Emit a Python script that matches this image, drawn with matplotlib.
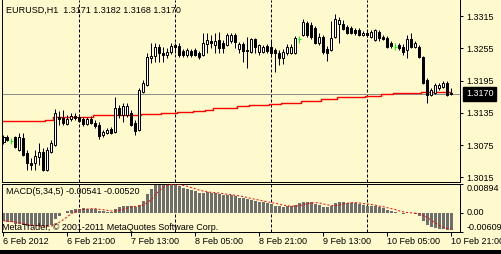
import matplotlib
matplotlib.use("Agg")
import matplotlib.pyplot as plt
import matplotlib.transforms as mtransforms
from matplotlib.patches import Rectangle

BG = "#FFFACD"
W, H = 502, 254

# hourly EURUSD candles
opens = [
    1.3081, 1.3090, 1.3082, 1.3090, 1.3066, 1.3088, 1.3060, 1.3042, 1.3042, 1.3053,
    1.3062, 1.3029, 1.3062, 1.3075, 1.3127, 1.3125, 1.3114, 1.3123, 1.3129, 1.3127,
    1.3123, 1.3114, 1.3123, 1.3116, 1.3112, 1.3094, 1.3097, 1.3105, 1.3099, 1.3144,
    1.3131, 1.3131, 1.3135, 1.3116, 1.3103, 1.3174, 1.3187, 1.3237, 1.3241, 1.3257,
    1.3246, 1.3242, 1.3248, 1.3261, 1.3259, 1.3250, 1.3242, 1.3250, 1.3252, 1.3246,
    1.3242, 1.3263, 1.3268, 1.3261, 1.3270, 1.3265, 1.3261, 1.3268, 1.3280, 1.3254,
    1.3263, 1.3252, 1.3248, 1.3272, 1.3248, 1.3248, 1.3259, 1.3257, 1.3252, 1.3246,
    1.3237, 1.3246, 1.3246, 1.3246, 1.3272, 1.3280, 1.3302, 1.3298, 1.3293, 1.3265,
    1.3276, 1.3254, 1.3252, 1.3276, 1.3300, 1.3300, 1.3295, 1.3293, 1.3289, 1.3289,
    1.3280, 1.3283, 1.3276, 1.3270, 1.3285, 1.3276, 1.3274, 1.3265, 1.3257, 1.3261,
    1.3257, 1.3252, 1.3272, 1.3257, 1.3257, 1.3239, 1.3196, 1.3168, 1.3172, 1.3181,
    1.3183, 1.3190, 1.3171,
]
highs = [
    1.3094, 1.3094, 1.3088, 1.3092, 1.3097, 1.3097, 1.3066, 1.3051, 1.3066, 1.3079,
    1.3070, 1.3071, 1.3084, 1.3142, 1.3138, 1.3140, 1.3131, 1.3135, 1.3135, 1.3133,
    1.3127, 1.3127, 1.3129, 1.3122, 1.3118, 1.3103, 1.3107, 1.3109, 1.3164, 1.3149,
    1.3153, 1.3153, 1.3140, 1.3122, 1.3181, 1.3196, 1.3246, 1.3265, 1.3265, 1.3263,
    1.3257, 1.3255, 1.3265, 1.3265, 1.3265, 1.3254, 1.3255, 1.3254, 1.3255, 1.3250,
    1.3283, 1.3283, 1.3280, 1.3283, 1.3285, 1.3270, 1.3283, 1.3283, 1.3283, 1.3267,
    1.3267, 1.3276, 1.3274, 1.3274, 1.3263, 1.3261, 1.3263, 1.3270, 1.3255, 1.3252,
    1.3254, 1.3263, 1.3263, 1.3278, 1.3278, 1.3309, 1.3306, 1.3304, 1.3296, 1.3283,
    1.3280, 1.3259, 1.3306, 1.3319, 1.3313, 1.3308, 1.3298, 1.3296, 1.3293, 1.3293,
    1.3287, 1.3289, 1.3289, 1.3291, 1.3289, 1.3280, 1.3278, 1.3268, 1.3265, 1.3265,
    1.3263, 1.3280, 1.3283, 1.3268, 1.3261, 1.3241, 1.3200, 1.3181, 1.3190, 1.3190,
    1.3194, 1.3194, 1.3182,
]
lows = [
    1.3077, 1.3082, 1.3077, 1.3070, 1.3064, 1.3055, 1.3029, 1.3029, 1.3029, 1.3038,
    1.3027, 1.3027, 1.3060, 1.3073, 1.3112, 1.3112, 1.3112, 1.3120, 1.3122, 1.3118,
    1.3110, 1.3112, 1.3114, 1.3107, 1.3086, 1.3090, 1.3096, 1.3096, 1.3097, 1.3125,
    1.3118, 1.3127, 1.3110, 1.3094, 1.3101, 1.3172, 1.3185, 1.3228, 1.3229, 1.3229,
    1.3229, 1.3237, 1.3244, 1.3246, 1.3239, 1.3239, 1.3239, 1.3239, 1.3241, 1.3235,
    1.3241, 1.3246, 1.3255, 1.3246, 1.3246, 1.3246, 1.3259, 1.3265, 1.3255, 1.3246,
    1.3229, 1.3218, 1.3246, 1.3246, 1.3242, 1.3246, 1.3246, 1.3239, 1.3211, 1.3224,
    1.3226, 1.3242, 1.3244, 1.3244, 1.3265, 1.3278, 1.3276, 1.3272, 1.3263, 1.3261,
    1.3244, 1.3231, 1.3250, 1.3274, 1.3265, 1.3289, 1.3282, 1.3282, 1.3280, 1.3278,
    1.3278, 1.3276, 1.3274, 1.3268, 1.3268, 1.3270, 1.3255, 1.3255, 1.3252, 1.3252,
    1.3242, 1.3237, 1.3255, 1.3255, 1.3237, 1.3188, 1.3153, 1.3166, 1.3170, 1.3177,
    1.3181, 1.3166, 1.3168,
]
closes = [
    1.3090, 1.3084, 1.3082, 1.3071, 1.3090, 1.3056, 1.3042, 1.3038, 1.3055, 1.3062,
    1.3029, 1.3066, 1.3079, 1.3135, 1.3123, 1.3116, 1.3123, 1.3129, 1.3125, 1.3120,
    1.3114, 1.3123, 1.3116, 1.3110, 1.3092, 1.3099, 1.3103, 1.3097, 1.3144, 1.3131,
    1.3148, 1.3148, 1.3112, 1.3101, 1.3177, 1.3190, 1.3239, 1.3241, 1.3257, 1.3246,
    1.3242, 1.3248, 1.3259, 1.3257, 1.3242, 1.3242, 1.3252, 1.3242, 1.3242, 1.3239,
    1.3265, 1.3270, 1.3265, 1.3268, 1.3255, 1.3255, 1.3280, 1.3280, 1.3267, 1.3263,
    1.3250, 1.3250, 1.3272, 1.3257, 1.3261, 1.3257, 1.3250, 1.3246, 1.3246, 1.3237,
    1.3248, 1.3257, 1.3257, 1.3274, 1.3272, 1.3304, 1.3280, 1.3276, 1.3265, 1.3276,
    1.3248, 1.3246, 1.3274, 1.3309, 1.3308, 1.3291, 1.3283, 1.3283, 1.3283, 1.3280,
    1.3283, 1.3280, 1.3285, 1.3289, 1.3274, 1.3272, 1.3257, 1.3259, 1.3257, 1.3255,
    1.3248, 1.3272, 1.3257, 1.3265, 1.3239, 1.3190, 1.3168, 1.3177, 1.3187, 1.3187,
    1.3190, 1.3168, 1.3170,
]
# slow moving average (red line)
ma = [
    1.3119, 1.3119, 1.3119, 1.3119, 1.3119, 1.3119, 1.3119, 1.3119, 1.3119, 1.3119,
    1.3119, 1.3122, 1.3122, 1.3127, 1.3127, 1.3127, 1.3127, 1.3127, 1.3127, 1.3127,
    1.3127, 1.3127, 1.3127, 1.3130, 1.3130, 1.3130, 1.3130, 1.3130, 1.3130, 1.3130,
    1.3130, 1.3130, 1.3130, 1.3130, 1.3130, 1.3132, 1.3132, 1.3132, 1.3132, 1.3132,
    1.3134, 1.3134, 1.3134, 1.3134, 1.3136, 1.3136, 1.3136, 1.3136, 1.3138, 1.3138,
    1.3138, 1.3140, 1.3140, 1.3144, 1.3144, 1.3144, 1.3144, 1.3144, 1.3144, 1.3148,
    1.3148, 1.3148, 1.3149, 1.3149, 1.3149, 1.3149, 1.3149, 1.3151, 1.3151, 1.3151,
    1.3154, 1.3154, 1.3154, 1.3154, 1.3154, 1.3157, 1.3157, 1.3157, 1.3157, 1.3157,
    1.3160, 1.3160, 1.3160, 1.3160, 1.3164, 1.3164, 1.3164, 1.3164, 1.3164, 1.3164,
    1.3164, 1.3167, 1.3167, 1.3167, 1.3167, 1.3169, 1.3169, 1.3169, 1.3172, 1.3172,
    1.3172, 1.3172, 1.3172, 1.3172, 1.3172, 1.3174, 1.3174, 1.3174, 1.3174, 1.3174,
    1.3174, 1.3174, 1.3174,
]
macd = [
    -0.0028, -0.0030, -0.0031, -0.0035, -0.0037, -0.0040, -0.0042, -0.0043, -0.0043, -0.0043,
    -0.0043, -0.0041, -0.0038, -0.0020, -0.0010, 0.0000, 0.0005, 0.0008, 0.0010, 0.0012,
    0.0013, 0.0012, 0.0011, 0.0010, 0.0006, 0.0004, 0.0002, 0.0001, 0.0012, 0.0016,
    0.0020, 0.0022, 0.0020, 0.0018, 0.0024, 0.0035, 0.0058, 0.0075, 0.0086, 0.0089,
    0.0089, 0.0089, 0.0089, 0.0087, 0.0082, 0.0078, 0.0074, 0.0070, 0.0066, 0.0062,
    0.0062, 0.0063, 0.0061, 0.0060, 0.0057, 0.0054, 0.0054, 0.0054, 0.0051, 0.0047,
    0.0044, 0.0041, 0.0039, 0.0036, 0.0034, 0.0032, 0.0029, 0.0026, 0.0022, 0.0019,
    0.0018, 0.0019, 0.0020, 0.0024, 0.0030, 0.0033, 0.0033, 0.0032, 0.0028, 0.0024,
    0.0018, 0.0017, 0.0022, 0.0030, 0.0032, 0.0032, 0.0031, 0.0030, 0.0029, 0.0027,
    0.0025, 0.0022, 0.0020, 0.0019, 0.0016, 0.0013, 0.0008, 0.0005, 0.0002, -0.0001,
    -0.0003, -0.0002, -0.0002, -0.0004, -0.0010, -0.0025, -0.0038, -0.0045, -0.0048, -0.0050,
    -0.0052, -0.0054, -0.00541,
]
signal = [
    -0.0026, -0.0027, -0.0028, -0.0030, -0.0032, -0.0035, -0.0037, -0.0039, -0.0041, -0.0042,
    -0.0043, -0.0043, -0.0042, -0.0037, -0.0030, -0.0022, -0.0013, -0.0003, 0.0003, 0.0007,
    0.0010, 0.0011, 0.0012, 0.0012, 0.0010, 0.0009, 0.0007, 0.0005, 0.0005, 0.0007,
    0.0010, 0.0014, 0.0018, 0.0019, 0.0021, 0.0024, 0.0031, 0.0042, 0.0056, 0.0069,
    0.0079, 0.0086, 0.0088, 0.0089, 0.0087, 0.0085, 0.0082, 0.0078, 0.0074, 0.0070,
    0.0067, 0.0065, 0.0063, 0.0062, 0.0061, 0.0059, 0.0057, 0.0056, 0.0054, 0.0052,
    0.0050, 0.0047, 0.0044, 0.0041, 0.0039, 0.0036, 0.0034, 0.0031, 0.0029, 0.0026,
    0.0023, 0.0021, 0.0020, 0.0020, 0.0022, 0.0025, 0.0028, 0.0030, 0.0031, 0.0030,
    0.0027, 0.0024, 0.0022, 0.0022, 0.0024, 0.0027, 0.0029, 0.0031, 0.0031, 0.0030,
    0.0028, 0.0027, 0.0025, 0.0023, 0.0020, 0.0018, 0.0015, 0.0012, 0.0009, 0.0005,
    0.0002, 0.0000, -0.0001, -0.0002, -0.0004, -0.0009, -0.0016, -0.0024, -0.0033, -0.0041,
    -0.0047, -0.0050, -0.0052,
]

day_starts = [19, 43, 67, 91]
time_ticks = [0, 16, 32, 48, 64, 80, 96, 112]
time_labels = ["6 Feb 2012", "6 Feb 21:00", "7 Feb 13:00", "8 Feb 05:00",
               "8 Feb 21:00", "9 Feb 13:00", "10 Feb 05:00", "10 Feb 21:00"]
price_ticks = [1.3315, 1.3255, 1.3195, 1.3135, 1.3075, 1.3015]
macd_ticks = [-0.00609, 0.0, 0.00894]
macd_tick_labels = ["-0.00609", "0.00", "0.00894"]

plt.rcParams["font.family"] = ["Liberation Sans", "DejaVu Sans"]
FS = 6.5
PX = 0.72  # one pixel in points

fig = plt.figure(figsize=(W / 100, H / 100), dpi=100, facecolor=BG)
ax = fig.add_axes([2 / W, 1 - 182 / H, 458 / W, 182 / H], facecolor=BG)
ax2 = fig.add_axes([2 / W, 22 / H, 458 / W, 48 / H], facecolor=BG)

n = len(closes)
x = list(range(n))
xlim = (-0.375, 114.125)

# ---- price panel
for d in day_starts:
    ax.axvline(d, color="black", lw=PX, ls=(0, (3, 2)), zorder=1)
ax.axhline(closes[-1], color="#8c8c8c", lw=PX, zorder=1.5)
ax.plot(x, ma, color="red", lw=1.0, drawstyle="steps-mid", zorder=2)

doji = [i for i in x if opens[i] == closes[i]]
up = [i for i in x if closes[i] > opens[i]]
dn = [i for i in x if closes[i] < opens[i]]
wick_col = ["#00FF00" if i in doji else "black" for i in x]
ax.vlines(x, lows, highs, colors=wick_col, lw=PX, zorder=3)
ax.bar(up, [closes[i] - opens[i] for i in up], bottom=[opens[i] for i in up],
       width=0.5, facecolor="white", edgecolor="black", lw=PX, zorder=4)
ax.bar(dn, [opens[i] - closes[i] for i in dn], bottom=[closes[i] for i in dn],
       width=0.5, facecolor="black", edgecolor="black", lw=PX, zorder=4)
ax.hlines([closes[i] for i in doji], [i - 0.375 for i in doji], [i + 0.375 for i in doji],
          colors="#00FF00", lw=PX, zorder=4)

ax.set_xlim(xlim)
ax.set_ylim(1.30062, 1.33448)
ax.set_xticks([])
ax.yaxis.tick_right()
ax.set_yticks(price_ticks)
ax.set_yticklabels([f"{p:.4f}" for p in price_ticks])
ax.tick_params(axis="y", direction="out", length=3 * PX, width=PX, pad=2.5, labelsize=FS)
ax.spines["top"].set_visible(False)
for s in ("left", "right", "bottom"):
    ax.spines[s].set_linewidth(PX)

ax.text(1.0, closes[-1], f"{closes[-1]:.4f}", transform=ax.get_yaxis_transform(),
        ha="left", va="center", fontsize=FS, color="white", zorder=10, clip_on=False,
        bbox=dict(boxstyle="square,pad=0.3", fc="black", ec="black"))
ax.texts[-1].set_x(1.0 + 6 / 458)

ax.text(4 / 458, 1 - 10.5 / 182, "EURUSD,H1  1.3171 1.3182 1.3168 1.3170",
        transform=ax.transAxes, ha="left", va="center", fontsize=FS)

# ---- MACD panel
for d in day_starts:
    ax2.axvline(d, color="black", lw=PX, ls=(0, (3, 2)), zorder=1)
ax2.bar(x, macd, width=0.75, color="#6e6e6e", lw=0, zorder=2)
ax2.plot(x, signal, color="red", lw=PX, ls=(0, (2, 2)), zorder=3)
ax2.set_xlim(xlim)
ax2.set_ylim(macd_ticks[0], macd_ticks[-1])
ax2.yaxis.tick_right()
ax2.set_yticks(macd_ticks)
ax2.set_yticklabels(macd_tick_labels)
for lab, va in zip(ax2.get_yticklabels(), ["bottom", "center", "top"]):
    lab.set_va(va)
ax2.tick_params(axis="y", direction="out", length=3 * PX, width=PX, pad=2.5, labelsize=FS)
ax2.set_xticks(time_ticks)
ax2.set_xticklabels(time_labels)
shift = mtransforms.ScaledTranslation(-1 / 100, 0, fig.dpi_scale_trans)
for lab in ax2.get_xticklabels():
    lab.set_ha("left")
    lab.set_transform(lab.get_transform() + shift)
ax2.tick_params(axis="x", direction="out", length=4 * PX, width=PX, pad=1.0, labelsize=FS)
for s in ax2.spines.values():
    s.set_linewidth(PX)

ax2.text(4 / 458, 1 - 7.5 / 48, "MACD(5,34,5) -0.00541 -0.00520",
         transform=ax2.transAxes, ha="left", va="center", fontsize=FS, zorder=5)
ax2.text(0, 4 / 48, "MetaTrader, \u00a9 2001-2011 MetaQuotes Software Corp.",
         transform=ax2.transAxes, ha="left", va="center", fontsize=FS, zorder=5)

fig.patches.append(Rectangle((0, 0), 1, 4 / H, transform=fig.transFigure,
                             facecolor="black", edgecolor="none"))

fig.savefig("out.png", dpi=100, facecolor=BG)
